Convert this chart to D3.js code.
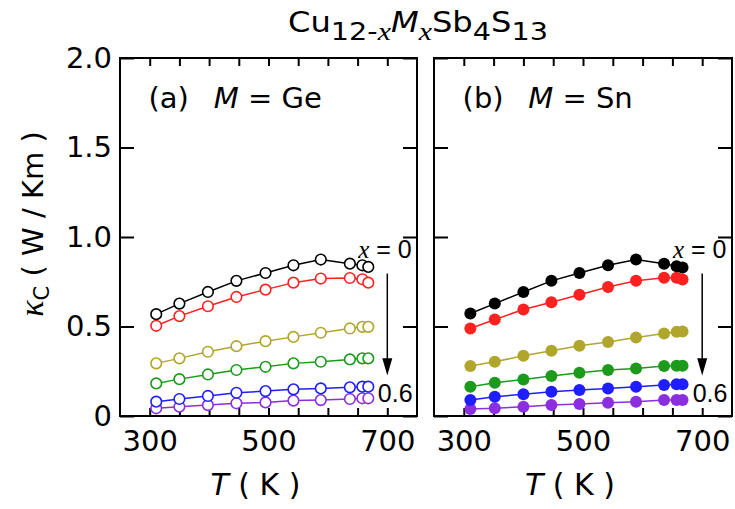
<!DOCTYPE html>
<html>
<head>
<meta charset="utf-8">
<script src="https://cdn.jsdelivr.net/npm/d3@7"></script>
<style>
body { margin: 0; background: #fff; }
</style>
</head>
<body>
<div class="chart"></div>
<script>
// temperatures (K)
const tempsGe = [311, 350, 398, 446, 495, 542, 588, 637, 658, 668];
const tempsSn = [311, 352, 400, 447, 494, 542, 589, 636, 657, 667];

// kappa_C (W/Km), M = Ge, x = 0 ... 0.6
const geBlack  = [0.569, 0.628, 0.693, 0.755, 0.799, 0.842, 0.874, 0.851, 0.842, 0.833];
const geRed    = [0.504, 0.558, 0.613, 0.665, 0.706, 0.745, 0.768, 0.771, 0.764, 0.745];
const geOlive  = [0.294, 0.322, 0.359, 0.390, 0.418, 0.442, 0.465, 0.489, 0.498, 0.498];
const geGreen  = [0.182, 0.206, 0.232, 0.257, 0.275, 0.294, 0.303, 0.316, 0.322, 0.322];
const geBlue   = [0.080, 0.095, 0.112, 0.130, 0.139, 0.149, 0.154, 0.160, 0.164, 0.164];
const gePurple = [0.043, 0.052, 0.061, 0.071, 0.076, 0.086, 0.089, 0.095, 0.099, 0.099];

// kappa_C (W/Km), M = Sn
const snBlack  = [0.573, 0.628, 0.693, 0.755, 0.799, 0.842, 0.874, 0.851, 0.836, 0.829];
const snRed    = [0.489, 0.539, 0.595, 0.636, 0.677, 0.721, 0.755, 0.773, 0.773, 0.762];
const snOlive  = [0.279, 0.303, 0.336, 0.364, 0.392, 0.414, 0.439, 0.461, 0.470, 0.472];
const snGreen  = [0.164, 0.186, 0.204, 0.223, 0.242, 0.257, 0.266, 0.279, 0.281, 0.281];
const snBlue   = [0.089, 0.108, 0.121, 0.136, 0.145, 0.154, 0.164, 0.173, 0.177, 0.177];
const snPurple = [0.039, 0.043, 0.052, 0.061, 0.067, 0.074, 0.080, 0.089, 0.089, 0.089];

const colors = ['#000000', '#ff2020', '#b0a62c', '#1c9a1c', '#1e1eff', '#8a2ee0'];
const yTicks = [0, 0.5, 1.0, 1.5, 2.0];
const xTicks = [300, 350, 400, 450, 500, 550, 600, 650, 700];
const xLabels = [300, 500, 700];

const width = 735, height = 509;
const margin = ({top: 58, bottom: 416});

const svg = d3.select(".chart").append("svg")
    .attr("width", width)
    .attr("height", height)
    .attr("font-family", "DejaVu Sans");

const yScale = d3.scaleLinear()
    .domain([0, 2])
    .range([margin.bottom, margin.top]);

const panels = [
    {left: 120, right: 417, temps: tempsGe, filled: false, tag: "(a)", metal: "Ge",
     series: [geBlack, geRed, geOlive, geGreen, geBlue, gePurple]},
    {left: 434, right: 732, temps: tempsSn, filled: true, tag: "(b)", metal: "Sn",
     series: [snBlack, snRed, snOlive, snGreen, snBlue, snPurple]}
];

panels.forEach((p, i) => {
    const xScale = d3.scaleLinear()
        .domain([250, 750])
        .range([p.left, p.right]);

    const g = svg.append("g");

    // axes, ticks pointing inward
    g.append("g")
        .attr("transform", `translate(0,${margin.bottom})`)
        .call(d3.axisBottom(xScale).tickValues(xTicks).tickSizeInner(-8).tickSizeOuter(0)
            .tickPadding(14).tickFormat(d => xLabels.includes(d) ? d : ""));
    g.append("g")
        .attr("transform", `translate(0,${margin.top})`)
        .call(d3.axisTop(xScale).tickValues(xTicks).tickSizeInner(-8).tickSizeOuter(0).tickFormat(""));
    g.append("g")
        .attr("transform", `translate(${p.left},0)`)
        .call(d3.axisLeft(yScale).tickValues(yTicks).tickSizeInner(-14).tickSizeOuter(0)
            .tickPadding(8).tickFormat(d => i === 0 ? (d === 0 ? "0" : d3.format(".1f")(d)) : ""));
    g.append("g")
        .attr("transform", `translate(${p.right},0)`)
        .call(d3.axisRight(yScale).tickValues(yTicks).tickSizeInner(-14).tickSizeOuter(0).tickFormat(""));

    g.selectAll(".domain").remove();
    g.selectAll(".tick line").attr("stroke", "#000").attr("stroke-width", 2);
    g.selectAll(".tick text")
        .attr("fill", "#000")
        .attr("font-size", 29)
        .attr("font-family", "DejaVu Sans");

    g.append("rect")
        .attr("x", p.left)
        .attr("y", margin.top)
        .attr("width", p.right - p.left)
        .attr("height", margin.bottom - margin.top)
        .attr("fill", "none")
        .attr("stroke", "#000")
        .attr("stroke-width", 2);

    // series, bottom to top
    const line = d3.line()
        .x((d, j) => xScale(p.temps[j]))
        .y(d => yScale(d));

    p.series.slice().reverse().forEach((vals, k) => {
        const c = colors[p.series.length - 1 - k];
        g.append("path")
            .datum(vals)
            .attr("fill", "none")
            .attr("stroke", c)
            .attr("stroke-width", 1.5)
            .attr("d", line);
        g.selectAll(null)
            .data(vals)
            .enter()
            .append("circle")
            .attr("cx", (d, j) => xScale(p.temps[j]))
            .attr("cy", d => yScale(d))
            .attr("r", p.filled ? 6 : 5.3)
            .attr("fill", p.filled ? c : "white")
            .attr("stroke", c)
            .attr("stroke-width", p.filled ? 0 : 1.6);
    });

    // panel label
    const lab = g.append("text")
        .attr("x", xScale(298))
        .attr("y", 108)
        .attr("font-size", 29);
    lab.append("tspan").text(p.tag);
    lab.append("tspan").attr("x", xScale(408)).attr("font-style", "italic").text("M");
    lab.append("tspan").text(" = " + p.metal);

    // x = 0 ... 0.6 arrow
    const ax = xScale(700);
    g.append("line")
        .attr("x1", ax).attr("x2", ax)
        .attr("y1", yScale(0.796)).attr("y2", yScale(0.26))
        .attr("stroke", "#000").attr("stroke-width", 1.5);
    g.append("path")
        .attr("d", `M${ax - 5},${yScale(0.322)}L${ax + 5},${yScale(0.322)}L${ax},${yScale(0.226)}Z`)
        .attr("fill", "#000");

    const t0 = g.append("text")
        .attr("x", xScale(651))
        .attr("y", yScale(0.88))
        .attr("font-size", 25)
        .attr("font-family", "Liberation Sans");
    t0.append("tspan").attr("font-family", "Liberation Serif").attr("font-style", "italic").text("x");
    t0.append("tspan").text(" = 0");

    g.append("text")
        .attr("x", xScale(684))
        .attr("y", yScale(0.081))
        .attr("font-size", 25)
        .attr("font-family", "Liberation Sans")
        .text("0.6");

    // x axis title
    const xt = g.append("text")
        .attr("x", (p.left + p.right) / 2 - 13)
        .attr("y", 495)
        .attr("text-anchor", "middle")
        .attr("font-size", 30);
    xt.append("tspan").attr("font-style", "italic").text("T");
    xt.append("tspan").text(" ( K )");
});

// y axis title
const yt = svg.append("text")
    .attr("transform", "translate(43,224) rotate(-90)")
    .attr("text-anchor", "middle")
    .attr("font-size", 29);
yt.append("tspan").attr("font-family", "Liberation Serif").attr("font-style", "italic")
    .attr("font-size", 34).text("κ");
yt.append("tspan").attr("font-size", 21).attr("dy", 6).text("C");
yt.append("tspan").attr("dy", -6).text(" ( W / Km )");

// title
const title = svg.append("text")
    .attr("x", 288)
    .attr("y", 32)
    .attr("font-size", 28)
    .attr("textLength", 260)
    .attr("lengthAdjust", "spacingAndGlyphs");
title.append("tspan").text("Cu");
title.append("tspan").attr("font-size", 25).attr("dy", 8).text("12-");
title.append("tspan").attr("font-size", 26).attr("font-family", "Liberation Serif").attr("font-style", "italic").text("x");
title.append("tspan").attr("dy", -8).attr("font-style", "italic").text("M");
title.append("tspan").attr("font-size", 26).attr("dy", 8).attr("font-family", "Liberation Serif").attr("font-style", "italic").text("x");
title.append("tspan").attr("dy", -8).text("Sb");
title.append("tspan").attr("font-size", 25).attr("dy", 8).text("4");
title.append("tspan").attr("dy", -8).text("S");
title.append("tspan").attr("font-size", 25).attr("dy", 8).text("13");
</script>
</body>
</html>
